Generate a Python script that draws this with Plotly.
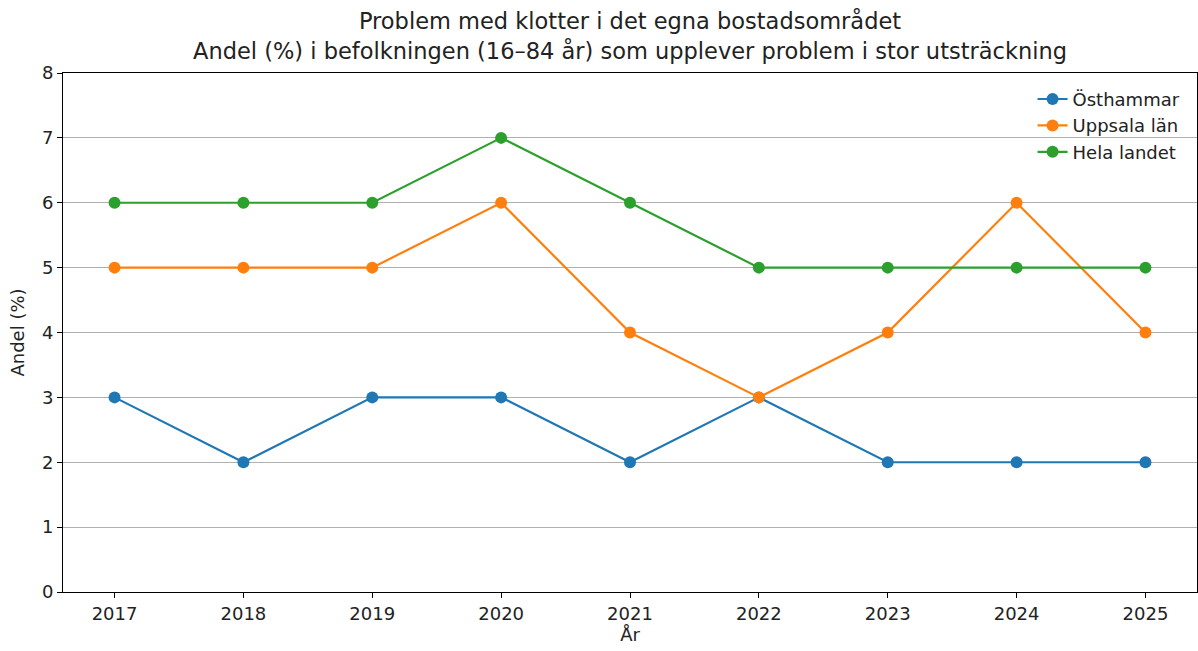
import plotly.graph_objects as go

# Data
years = [2017, 2018, 2019, 2020, 2021, 2022, 2023, 2024, 2025]
osthammar = [3, 2, 3, 3, 2, 3, 2, 2, 2]
uppsala_lan = [5, 5, 5, 6, 4, 3, 4, 6, 4]
hela_landet = [6, 6, 6, 7, 6, 5, 5, 5, 5]

series = [
    ("Östhammar", osthammar, "#1f77b4"),
    ("Uppsala län", uppsala_lan, "#ff7f0e"),
    ("Hela landet", hela_landet, "#2ca02c"),
]

fig = go.Figure()
for name, vals, color in series:
    fig.add_trace(go.Scatter(
        x=years, y=vals, name=name,
        mode="lines+markers",
        line=dict(color=color, width=2.2),
        marker=dict(color=color, size=12),
    ))

font = "DejaVu Sans, sans-serif"
fig.update_layout(
    width=1198, height=651,
    paper_bgcolor="white", plot_bgcolor="white",
    font=dict(family=font, size=18, color="#222"),
    margin=dict(l=63, r=1, t=73, b=59),
    title=dict(
        text="Problem med klotter i det egna bostadsområdet<br>"
             "Andel (%) i befolkningen (16–84 år) som upplever problem i stor utsträckning",
        x=0.5, xref="paper", xanchor="center",
        y=0.955, yref="container", yanchor="middle",
        font=dict(size=22.5, family=font, color="#222"),
    ),
    xaxis=dict(
        range=[2016.6, 2025.4], tickvals=years, ticktext=[str(y) for y in years],
        showgrid=False, zeroline=False, automargin=False,
        showline=True, linecolor="black", linewidth=1, mirror=True,
        ticks="outside", ticklen=5, tickcolor="black",
        tickfont=dict(size=18, family=font, color="#222"),
        title=dict(text="År", standoff=2, font=dict(size=18)),
    ),
    yaxis=dict(
        range=[0, 8], dtick=1,
        showgrid=True, gridcolor="#b0b0b0", gridwidth=1, zeroline=False,
        automargin=False,
        showline=True, linecolor="black", linewidth=1, mirror=True,
        ticks="outside", ticklen=5, tickcolor="black",
        tickfont=dict(size=18, family=font, color="#222"),
        title=dict(text="Andel (%)", standoff=12, font=dict(size=18)),
    ),
    legend=dict(
        x=0.855, y=0.985, xanchor="left", yanchor="top",
        bgcolor="rgba(0,0,0,0)", borderwidth=0,
        font=dict(size=18, family=font, color="#222"),
        itemwidth=30, tracegroupgap=0,
    ),
    showlegend=True,
)

# drop the page's default body margin so the figure sits at the window's corner
fig.write_html("out.html", config={"displayModeBar": False},
               post_script="document.body.style.margin='0';document.body.style.overflow='hidden';")
